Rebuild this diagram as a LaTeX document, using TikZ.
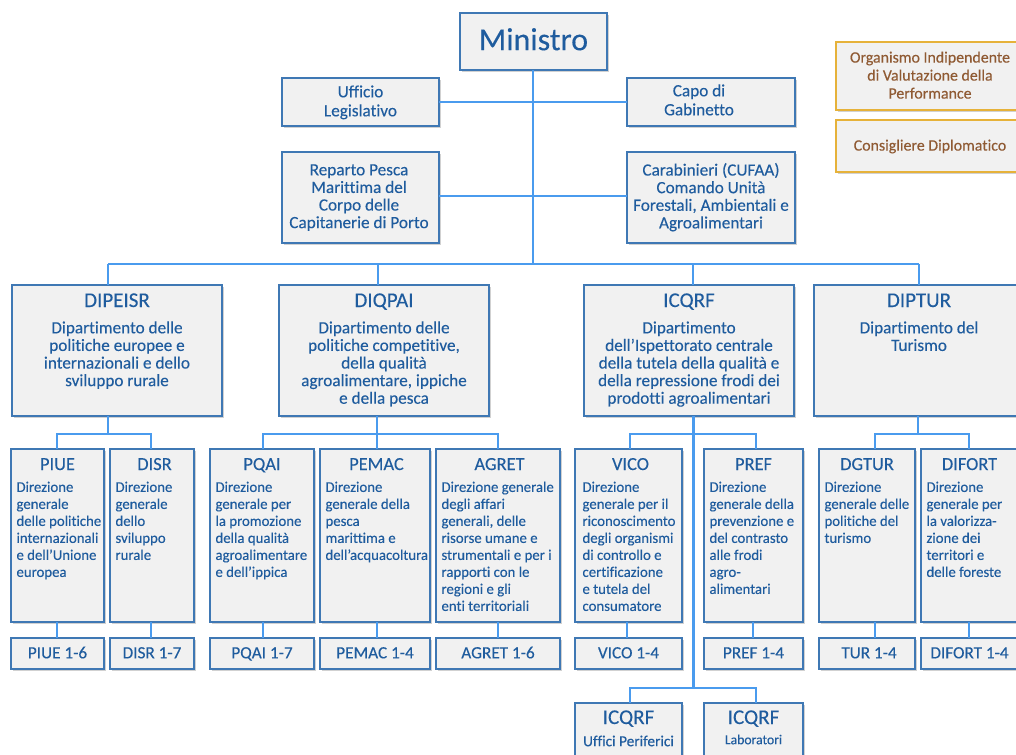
\documentclass[tikz,border=0pt]{standalone}
\usepackage{fontspec}
\setmainfont{Carlito}[Ligatures=NoCommon,FakeBold=0.2]
\usetikzlibrary{shadows}
\definecolor{txtblue}{HTML}{1F5C9E}
\definecolor{edgeblue}{HTML}{3F78B4}
\definecolor{linkblue}{HTML}{4A9BEE}
\definecolor{boxfill}{HTML}{F1F1F1}
\definecolor{gold}{HTML}{E6B23A}
\definecolor{brownt}{HTML}{8F5A33}
\tikzset{
  bluebox/.style={draw=edgeblue,line width=1.2pt,fill=boxfill,text=txtblue,inner sep=0pt,outer sep=0pt,anchor=north west,
    general shadow={fill=black!18,shadow xshift=1.7pt,shadow yshift=-1.7pt}},
  goldbox/.style={bluebox,draw=gold,text=brownt,general shadow={fill=white,opacity=0}},
  link/.style={draw=linkblue,line width=2.2pt}
}
\newcommand{\fA}{\fontsize{17.2}{17.6}\selectfont\leavevmode\strut}
\newcommand{\fAA}{\fontsize{17.2}{19}\selectfont\leavevmode\strut}
\newcommand{\fG}{\fontsize{15.9}{18}\selectfont\leavevmode\strut}
\newcommand{\fT}{\fontsize{21}{20}\selectfont\leavevmode\strut}
\newcommand{\fB}{\fontsize{14.8}{17}\selectfont\leavevmode\strut}
\newcommand{\fL}{\fontsize{18.4}{20}\selectfont\leavevmode\strut}
% [style]{name}{x0}{y0}{x1}{y1}{top pad}{text}
\newcommand{\bx}[8][]{%
  \pgfmathsetmacro\bw{#5-#3}\pgfmathsetmacro\bh{#6-#4}%
  \node[bluebox,#1,minimum width=\bw pt,minimum height=\bh pt] (#2) at (#3,#4)
    {\parbox[c][\bh pt][t]{\bw pt}{\vspace*{#7pt}\centering #8\par}};}
% level-two box: {name}{x0}{x1}{title}{body}
\newcommand{\lv}[5]{%
  \pgfmathsetmacro\bw{#3-#2}\pgfmathsetmacro\bi{#3-#2-6}%
  \node[bluebox,minimum width=\bw pt,minimum height=173pt] (#1) at (#2,449)
    {\parbox[c][173pt][t]{\bw pt}{\vspace*{7pt}\centering{\fL #4\par}\vspace{3pt}\hspace*{5pt}\begin{minipage}[t]{\bi pt}\raggedright\fB #5\end{minipage}\par}};}
% level-three box: {name}{x0}{x1}{text}
\newcommand{\lt}[4]{\bx{#1}{#2}{638}{#3}{669}{8}{\fA #4}}
\begin{document}
\begin{tikzpicture}[x=1pt,y=-1pt]
\clip (0,0) rectangle (1016,754);
\bx{min}{460}{13}{607}{70}{12}{\fontsize{32}{36}\selectfont\leavevmode\strut Ministro}
\bx{uff}{282}{78}{439}{126}{6}{\fAA Ufficio\\Legislativo}
\bx{capo}{627}{78}{795}{126}{5}{\fAA\hspace*{-24pt}Capo di\\\hspace*{-24pt}Gabinetto}
\bx{rep}{282}{152}{439}{243}{11}{\hspace*{-3pt}\fA Reparto Pesca\\\hspace*{-3pt}Marittima del\\\hspace*{-3pt}Corpo delle\\\hspace*{-3pt}Capitanerie di Porto}
\bx{car}{627}{152}{795}{243}{11}{\fA Carabinieri (CUFAA)\\Comando Unità\\Forestali, Ambientali e\\Agroalimentari}
\bx[goldbox]{oiv}{836}{42}{1024}{110}{8}{\fG Organismo Indipendente\\di Valutazione della\\Performance}
\bx[goldbox]{cons}{836}{120}{1024}{172}{18}{\fG Consigliere Diplomatico}
\bx{dipeisr}{12}{285}{222}{416}{8}{\fT DIPEISR\par\vspace{7pt}\fA Dipartimento delle\\politiche europee e\\internazionali e dello\\sviluppo rurale}
\bx{diqpai}{279}{285}{489}{416}{8}{\fT DIQPAI\par\vspace{7pt}\fA Dipartimento delle\\politiche competitive,\\della qualità\\agroalimentare, ippiche\\e della pesca}
\bx{icqrf}{584}{285}{794}{416}{8}{\fT ICQRF\par\vspace{7pt}\fA Dipartimento\\dell’Ispettorato centrale\\della tutela della qualità e\\della repressione frodi dei\\prodotti agroalimentari}
\bx{diptur}{814}{285}{1024}{416}{8}{\fT DIPTUR\par\vspace{7pt}\fA Dipartimento del\\Turismo}
\lv{piue}{11}{104}{PIUE}{Direzione\\generale\\delle politiche\\internazionali\\e dell’Unione\\europea}
\lv{disr}{110}{194}{\hspace*{5pt}DISR}{Direzione\\generale\\dello\\sviluppo\\rurale}
\lv{pqai}{210}{314}{PQAI}{Direzione\\generale per\\la promozione\\della qualità\\agroalimentare\\e dell’ippica}
\lv{pemac}{320}{430}{\hspace*{3pt}PEMAC}{Direzione\\generale della\\pesca\\marittima e\\dell’acquacoltura}
\lv{agret}{436}{560}{\hspace*{3pt}AGRET}{Direzione generale\\degli affari\\generali, delle\\risorse umane e\\strumentali e per i\\rapporti con le\\regioni e gli\\enti territoriali}
\lv{vico}{575}{682}{\hspace*{4pt}VICO}{\leftskip=2pt Direzione\\generale per il\\riconoscimento\\degli organismi\\di controllo e\\certificazione\\e tutela del\\consumatore}
\lv{pref}{704}{803}{PREF}{Direzione\\generale della\\prevenzione e\\del contrasto\\alle frodi\\agro-\\alimentari}
\lv{dgtur}{819}{915}{DGTUR}{Direzione\\generale delle\\politiche del\\turismo}
\lv{difort}{921}{1018}{DIFORT}{Direzione\\generale per\\la valorizza-\\zione dei\\territori e\\delle foreste}
\lt{piuen}{11}{104}{PIUE 1-6}
\lt{disrn}{110}{194}{DISR 1-7}
\lt{pqain}{210}{314}{PQAI 1-7}
\lt{pemacn}{320}{430}{PEMAC 1-4}
\lt{agretn}{436}{560}{AGRET 1-6}
\lt{vicon}{575}{682}{VICO 1-4}
\lt{prefn}{704}{803}{PREF 1-4}
\lt{turn}{819}{915}{\hspace*{4pt}TUR 1-4}
\lt{difortn}{921}{1018}{DIFORT 1-4}
\bx{uffp}{575}{703}{682}{780}{7}{\fT ICQRF\par\vspace{4pt}\fontsize{15.3}{16}\selectfont\leavevmode\strut Uffici Periferici}
\bx{lab}{704}{703}{803}{780}{7}{\fT ICQRF\par\vspace{2pt}\fontsize{13.7}{16}\selectfont\leavevmode\strut Laboratori}
% hubs and branch points
\coordinate (hub) at (533,264);
\foreach \n/\x in {dipeisr/108,diqpai/378,icqrf/693,diptur/919}{\coordinate (top\n) at (\x,264);}
\coordinate (busL) at (108,264);\coordinate (busR) at (919,264);
\coordinate (midrow) at (533,196);
\draw[link] (min.south -| hub) -- (hub);
\draw[link] (uff.east) -- (capo.west);
\draw[link] (rep.east |- midrow) -- (car.west |- midrow);
\draw[link] (busL) -- (busR);
\foreach \n in {dipeisr,diqpai,icqrf,diptur}{\draw[link] (top\n) -- (top\n |- \n.north);}
% department to directorate buses
\coordinate (j1) at (108,434);\coordinate (j1a) at (57,434);\coordinate (j1b) at (151,434);
\coordinate (j2) at (377,434);\coordinate (j2a) at (263,434);\coordinate (j2b) at (498,434);
\coordinate (j3) at (693.5,434);\coordinate (j3a) at (630,434);\coordinate (j3b) at (756,434);
\coordinate (j4) at (918,434);\coordinate (j4a) at (875,434);\coordinate (j4b) at (969,434);
\coordinate (k3) at (693.5,688);\coordinate (k3a) at (630,688);\coordinate (k3b) at (756,688);
\draw[link] (j1 |- dipeisr.south) -- (j1);
\draw[link] (j1a |- piue.north) |- (j1) -| (j1b |- disr.north);
\draw[link] (j2 |- diqpai.south) -- (j2 |- pemac.north);
\draw[link] (j2a |- pqai.north) |- (j2) -| (j2b |- agret.north);
\draw[link] (j3 |- icqrf.south) -- (k3);
\draw[link] (j3a |- vico.north) |- (j3) -| (j3b |- pref.north);
\draw[link] (k3a |- uffp.north) |- (k3) -| (k3b |- lab.north);
\draw[link] (j4 |- diptur.south) -- (j4);
\draw[link] (j4a |- dgtur.north) |- (j4) -| (j4b |- difort.north);
% directorate to division stems
\foreach \a/\b/\x in {piue/piuen/57,disr/disrn/151,pqai/pqain/263,pemac/pemacn/377,agret/agretn/498,vico/vicon/627,pref/prefn/753,dgtur/turn/875,difort/difortn/969}{
  \coordinate (s) at (\x,630);
  \draw[link] (s |- \a.south) -- (s |- \b.north);}
\end{tikzpicture}
\end{document}
